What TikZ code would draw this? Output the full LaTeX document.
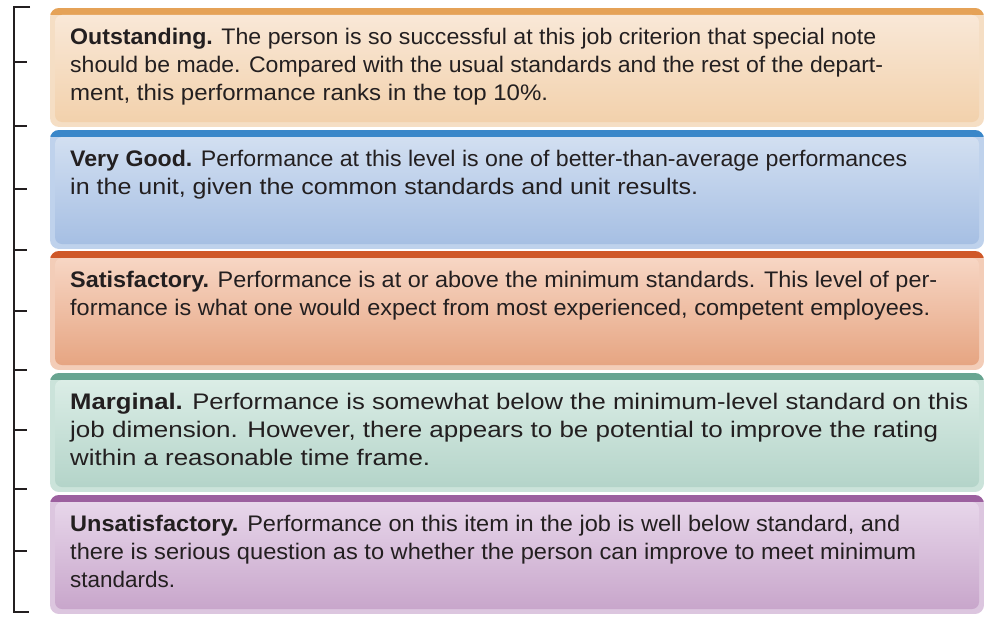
\documentclass[tikz,border=0pt]{standalone}
\usepackage{fontspec}
\setmainfont{Liberation Sans}
\usepackage{xcolor}
\usepackage{graphicx}
\usetikzlibrary{positioning}
\definecolor{ink}{HTML}{231F20}
\definecolor{bandorng}{HTML}{E5A257}
\definecolor{shellorng}{HTML}{F5DEC4}
\definecolor{toporng}{HTML}{F9E8D7}
\definecolor{botorng}{HTML}{F2D1AC}
\definecolor{bandblu}{HTML}{3A87C9}
\definecolor{shellblu}{HTML}{BFD2EC}
\definecolor{topblu}{HTML}{D2DFF1}
\definecolor{botblu}{HTML}{A6BFE3}
\definecolor{bandrd}{HTML}{CF5828}
\definecolor{shellrd}{HTML}{F3CDB8}
\definecolor{toprd}{HTML}{F7D6C4}
\definecolor{botrd}{HTML}{E6A582}
\definecolor{bandgrn}{HTML}{68A591}
\definecolor{shellgrn}{HTML}{CBE3DA}
\definecolor{topgrn}{HTML}{DBEDE6}
\definecolor{botgrn}{HTML}{B4D4C9}
\definecolor{bandprp}{HTML}{9C609F}
\definecolor{shellprp}{HTML}{DCC6DF}
\definecolor{topprp}{HTML}{E7D6EA}
\definecolor{botprp}{HTML}{C8A6CB}
% one printed line, set to the width it has in the figure
\newcommand{\fitline}[2]{\resizebox{#1pt}{\height}{#2}}
\tikzset{
  brkt/.style={draw=ink,line width=2.5pt},
  inner/.style={rounded corners=7pt},
  outer/.style={rounded corners=9pt},
  rtext/.style={anchor=north west,inner sep=0pt,align=left,text=ink,
    font=\fontsize{22.5}{28}\selectfont},
}

\begin{document}
\begin{tikzpicture}[x=1pt,y=-1pt]
  \useasboundingbox (0,0) rectangle (984,618);
  % bracket on the left
  \draw[brkt] (30,7) -- (14,7) -- (14,612) -- (29,612);
  \foreach \y in {62,126,189,250,311,370,430,489,551}
    \draw[brkt] (14,\y) -- (27,\y);
  % the five rating boxes
  \foreach \t/\c in {8/orng,130/blu,251/rd,373/grn,495/prp}{
    \begin{scope}
      \clip[outer] (50,\t) rectangle (984,\t+119);
      \fill[shell\c] (50,\t) rectangle (984,\t+119);
      \fill[band\c] (50,\t) rectangle (984,\t+7);
    \end{scope}
    \shade[inner,top color=top\c,bottom color=bot\c] (55,\t+7) rectangle (979,\t+114);
  }
  \node[rtext] (outst) at (70,28) {%
    \fitline{806}{\textbf{Outstanding.} The person is so successful at this job criterion that special note}\\
    \fitline{813}{should be made. Compared with the usual standards and the rest of the depart-}\\
    \fitline{478}{ment, this performance ranks in the top 10\%.}};
  \node[rtext] (vgood) at (70,150) {%
    \fitline{837}{\textbf{Very Good.} Performance at this level is one of better-than-average performances}\\
    \fitline{628}{in the unit, given the common standards and unit results.}};
  \node[rtext] (satis) at (70,271) {%
    \fitline{867}{\textbf{Satisfactory.} Performance is at or above the minimum standards. This level of per-}\\
    \fitline{860}{formance is what one would expect from most experienced, competent employees.}};
  \node[rtext] (margl) at (70,393) {%
    \fitline{898}{\textbf{Marginal.} Performance is somewhat below the minimum-level standard on this}\\
    \fitline{868}{job dimension. However, there appears to be potential to improve the rating}\\
    \fitline{360}{within a reasonable time frame.}};
  \node[rtext] (unsat) at (70,515) {%
    \fitline{830}{\textbf{Unsatisfactory.} Performance on this item in the job is well below standard, and}\\
    \fitline{846}{there is serious question as to whether the person can improve to meet minimum}\\
    \fitline{105}{standards.}};
\end{tikzpicture}
\end{document}
